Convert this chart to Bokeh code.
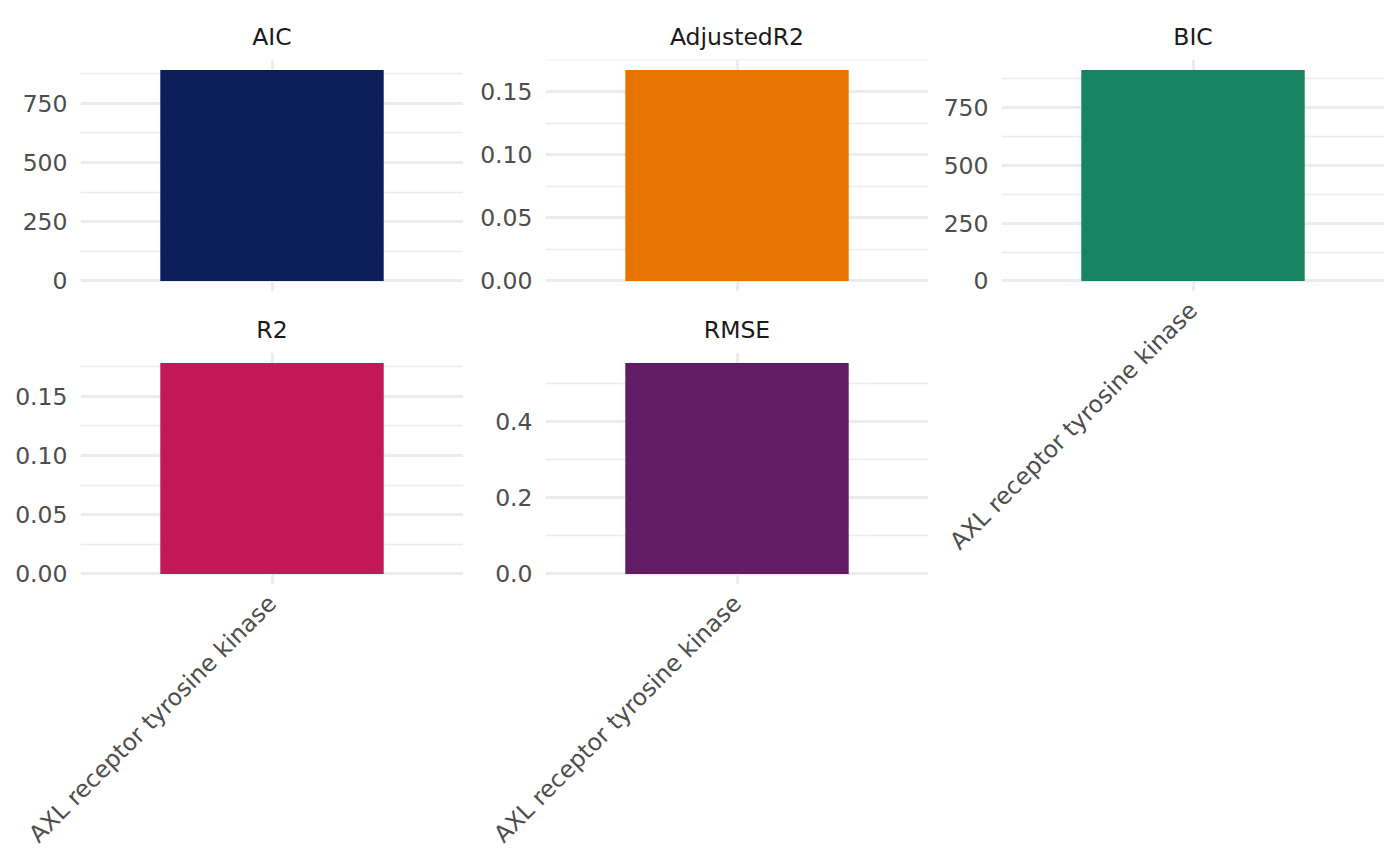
from bokeh.plotting import figure
from bokeh.layouts import row, column
from bokeh.models import FactorRange, Range1d, FixedTicker, PrintfTickFormatter
from bokeh.embed import file_html
from bokeh.resources import INLINE
import math

# ---- data ----
feature = "AXL receptor tyrosine kinase"
metrics = ["AIC", "AdjustedR2", "BIC", "R2", "RMSE"]
values = [890, 0.167, 912, 0.178, 0.555]
colors = ["#0C1F5C", "#E77400", "#168460", "#C2185A", "#621C63"]
major_ticks = [
    [0, 250, 500, 750],
    [0.0, 0.05, 0.10, 0.15],
    [0, 250, 500, 750],
    [0.0, 0.05, 0.10, 0.15],
    [0.0, 0.2, 0.4],
]
minor_ticks = [
    [125, 375, 625, 875],
    [0.025, 0.075, 0.125, 0.175],
    [125, 375, 625, 875],
    [0.025, 0.075, 0.125, 0.175],
    [0.1, 0.3, 0.5],
]
tick_formats = ["%d", "%.2f", "%d", "%.2f", "%.1f"]

FONT = "DejaVu Sans"
FS = "23.5px"
GRID = "#EBEBEB"
FW, FH = 383, 232


def make_panel(i, show_x, top, bottom, left, right):
    v = values[i]
    p = figure(
        x_range=FactorRange(factors=[feature], range_padding=0.2),
        y_range=Range1d(-0.05 * v, 1.05 * v),
        frame_width=FW, frame_height=FH,
        min_border_left=left, min_border_right=right,
        min_border_top=top, min_border_bottom=bottom,
        output_backend="svg", toolbar_location=None,
        title=metrics[i],
    )
    p.vbar(x=[feature], top=[v], width=0.7, fill_color=colors[i], line_color=None)
    p.outline_line_color = None
    p.background_fill_color = "white"
    p.border_fill_color = "white"

    p.title.align = "center"
    p.title.text_font = FONT
    p.title.text_font_size = FS
    p.title.text_font_style = "normal"
    p.title.text_color = "#1A1A1A"
    p.title.standoff = 17

    p.yaxis.ticker = FixedTicker(ticks=major_ticks[i], minor_ticks=minor_ticks[i])
    p.yaxis.formatter = PrintfTickFormatter(format=tick_formats[i])
    for ax in (p.xaxis, p.yaxis):
        ax.axis_line_color = None
        ax.major_tick_line_color = None
        ax.minor_tick_line_color = None
        ax.major_tick_out = 0
        ax.major_tick_in = 0
        ax.minor_tick_out = 0
        ax.minor_tick_in = 0
        ax.major_label_text_font = FONT
        ax.major_label_text_font_size = FS
        ax.major_label_text_color = "#4D4D4D"
    p.yaxis.major_label_standoff = 13
    p.xaxis.major_label_standoff = 15
    p.xaxis.major_label_orientation = math.pi / 4
    if not show_x:
        p.xaxis.visible = False

    p.ygrid.grid_line_color = GRID
    p.ygrid.grid_line_width = 2.8
    p.ygrid.minor_grid_line_color = GRID
    p.ygrid.minor_grid_line_width = 1.4
    p.xgrid.grid_line_color = GRID
    p.xgrid.grid_line_width = 2.8
    return p


p_aic = make_panel(0, False, 59, 10, 80, 0)
p_r2 = make_panel(3, True, 51, 255, 80, 0)
p_adj = make_panel(1, False, 59, 10, 82, 0)
p_rmse = make_panel(4, True, 51, 255, 82, 0)
p_bic = make_panel(2, True, 59, 255, 73, 8)

layout = row(column(p_aic, p_r2, spacing=0), column(p_adj, p_rmse, spacing=0), p_bic, spacing=0)

open("out.html", "w").write(file_html(layout, INLINE))
